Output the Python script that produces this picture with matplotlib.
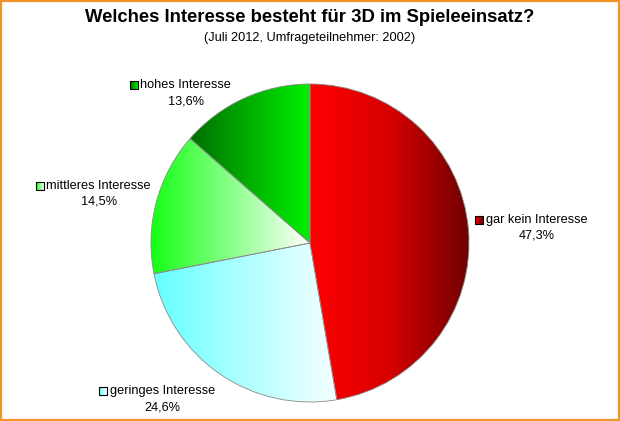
import numpy as np
import matplotlib

matplotlib.use("Agg")
import matplotlib.pyplot as plt
from matplotlib.patches import Rectangle
from matplotlib.colors import LinearSegmentedColormap

plt.rcParams["font.family"] = ["Liberation Sans", "DejaVu Sans"]

# Data
categories = ["gar kein Interesse", "geringes Interesse", "mittleres Interesse", "hohes Interesse"]
shares = [47.3, 24.6, 14.5, 13.6]
# left -> middle -> right colours of each slice's horizontal gradient
grad_left = ["#ff0000", "#66ffff", "#11ff11", "#006e00"]
grad_mid = ["#d60000", "#b0ffff", "#88ff88", "#00b000"]
grad_right = ["#6c0000", "#f6ffff", "#ffffff", "#00f000"]

TITLE = "Welches Interesse besteht für 3D im Spieleeinsatz?"
SUBTITLE = "(Juli 2012, Umfrageteilnehmer: 2002)"
ORANGE = "#f0952a"

W, H = 620, 421
fig = plt.figure(figsize=(W / 100, H / 100), dpi=100)
ax = fig.add_axes([0, 0, 1, 1])

# orange frame
fig.patches.append(Rectangle((0.002, 0.003), 0.996, 0.994, transform=fig.transFigure,
                             fill=False, edgecolor=ORANGE, linewidth=1.6))

wedges, _ = ax.pie(shares, center=(310, H - 243), radius=159, startangle=90,
                   counterclock=False, frame=True,
                   wedgeprops=dict(edgecolor="#8a8a8a", linewidth=0.6, facecolor="none"))
ax.set_xlim(0, W)
ax.set_ylim(0, H)
ax.set_aspect("auto")
ax.axis("off")

grad = np.linspace(0, 1, 256).reshape(1, -1)
for w, cl, cm, cr in zip(wedges, grad_left, grad_mid, grad_right):
    verts = w.get_path().vertices
    x0, x1 = verts[:, 0].min(), verts[:, 0].max()
    y0, y1 = verts[:, 1].min(), verts[:, 1].max()
    cmap = LinearSegmentedColormap.from_list("g", [cl, cm, cr])
    im = ax.imshow(grad, cmap=cmap, extent=(x0, x1, y0, y1), aspect="auto",
                   origin="lower", zorder=1, interpolation="bilinear")
    im.set_clip_path(w)
    w.set_zorder(2)


def legend_label(xs, y, name, pct, cl, cr):
    # small gradient square + category name, percentage centred under the name
    sq = 7.5
    cmap = LinearSegmentedColormap.from_list("s", [cl, cr])
    ax.imshow(grad, cmap=cmap, extent=(xs, xs + sq, H - y - sq / 2, H - y + sq / 2),
              aspect="auto", origin="lower", zorder=3)
    ax.add_patch(Rectangle((xs, H - y - sq / 2), sq, sq, fill=False,
                           edgecolor="black", linewidth=0.8, zorder=4))
    t = ax.text(xs + sq + 3, H - y, name, ha="left", va="center", fontsize=9.2, zorder=4)
    fig.canvas.draw()
    bb = t.get_window_extent()
    cx = (bb.x0 + bb.x1) / 2
    ax.text(cx, H - y - 16, pct, ha="center", va="center", fontsize=9.2, zorder=4)


label_pos = [(475, 220), (99, 391), (36, 186), (130, 85)]
for (xs, y), name, v, cl, cr in zip(label_pos, categories, shares, grad_left, grad_right):
    pct = f"{v:.1f}".replace(".", ",") + "%"
    legend_label(xs, y, name, pct, cl, cr)

ax.text(W / 2, H - 18, TITLE, ha="center", va="center", fontsize=13.3, fontweight="bold")
ax.text(W / 2, H - 38, SUBTITLE, ha="center", va="center", fontsize=9.2)

fig.savefig("out.png", dpi=100, facecolor="white")
